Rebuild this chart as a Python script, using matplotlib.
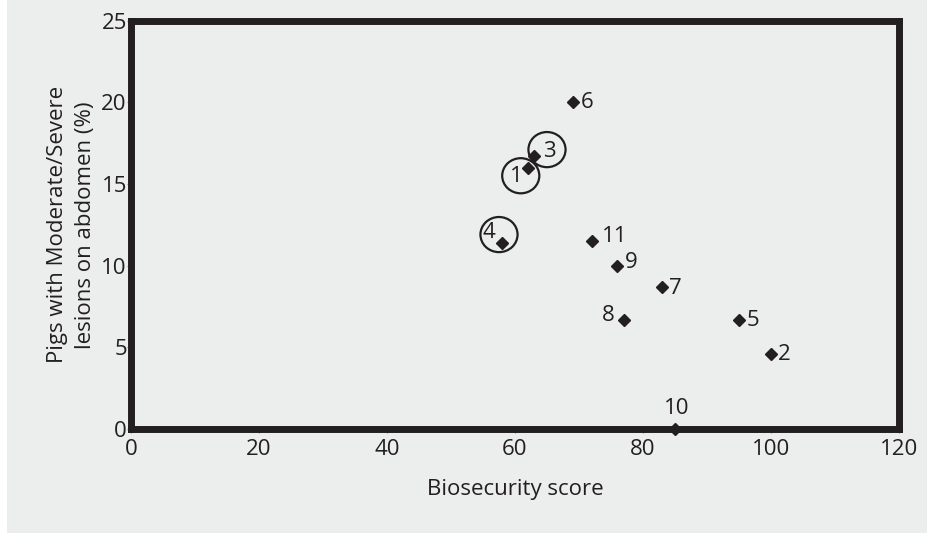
import matplotlib
matplotlib.use('Agg')
from matplotlib import pyplot as plt
from matplotlib.patches import Rectangle, Ellipse

plt.rcParams['font.family'] = ['Open Sans', 'DejaVu Sans']

# farm data: biosecurity score vs % pigs with lesions
farm_ids = ['1', '2', '3', '4', '5', '6', '7', '8', '9', '10', '11']
bio_score = [62, 100, 63, 58, 95, 69, 83, 77, 76, 85, 72]
lesion_pct = [16.0, 4.6, 16.7, 11.4, 6.7, 20.0, 8.7, 6.7, 10.0, 0.0, 11.5]
circled = ['1', '3', '4']

# label offsets from the marker, in pixels (right, down)
label_off = {
    '1': (-11, 9), '2': (13, 1), '3': (15, -5), '4': (-13, -10),
    '5': (14, 1), '6': (15, 0), '7': (13, 2), '8': (-16, -4),
    '9': (14, -3), '10': (2, -21), '11': (23, -5),
}
# circle centres round labels 1, 3, 4 (data coords)
circle_centers = {'1': (60.9, 15.5), '3': (65.0, 17.1), '4': (57.5, 11.9)}

bg = '#eceded'
ink = '#231f20'

fig = plt.figure(figsize=(9.27, 5.33), dpi=100, facecolor='white')
fig.patches.append(Rectangle((7 / 927, 0), 1, 1, transform=fig.transFigure,
                             facecolor=bg, edgecolor='none', zorder=-10))
ax = fig.add_axes([0.1413, 0.1951, 0.8285, 0.7664])
ax.set_facecolor(bg)

ax.plot(bio_score, lesion_pct, 'D', color=ink, markersize=6.5, clip_on=False,
        zorder=5)

for fid, x, y in zip(farm_ids, bio_score, lesion_pct):
    dx, dy = label_off[fid]
    ax.annotate(fid, (x, y), xytext=(dx * 0.72, -dy * 0.72),
                textcoords='offset points', ha='center', va='center',
                fontsize=16, color=ink)

for fid in circled:
    cx, cy = circle_centers[fid]
    ax.add_patch(Ellipse((cx, cy), width=5.8, height=2.15, fill=False,
                         edgecolor=ink, linewidth=1.6, zorder=4))

ax.set_xlim(0, 120)
ax.set_ylim(0, 25)
ax.set_xticks([0, 20, 40, 60, 80, 100, 120])
ax.set_yticks([0, 5, 10, 15, 20, 25])

for s in ax.spines.values():
    s.set_linewidth(5)
    s.set_color(ink)

ax.tick_params(direction='out', length=3, width=0.8, color='#888888',
               labelsize=16, labelcolor=ink)
ax.tick_params(axis='x', pad=4)
ax.tick_params(axis='y', pad=0)

ax.set_xlabel('Biosecurity score', fontsize=16, color=ink, labelpad=14)
ax.set_ylabel('Pigs with Moderate/Severe\nlesions on abdomen (%)', fontsize=16,
              color=ink, labelpad=4, linespacing=1.4)

fig.savefig('out.png', dpi=100, facecolor=fig.get_facecolor())
